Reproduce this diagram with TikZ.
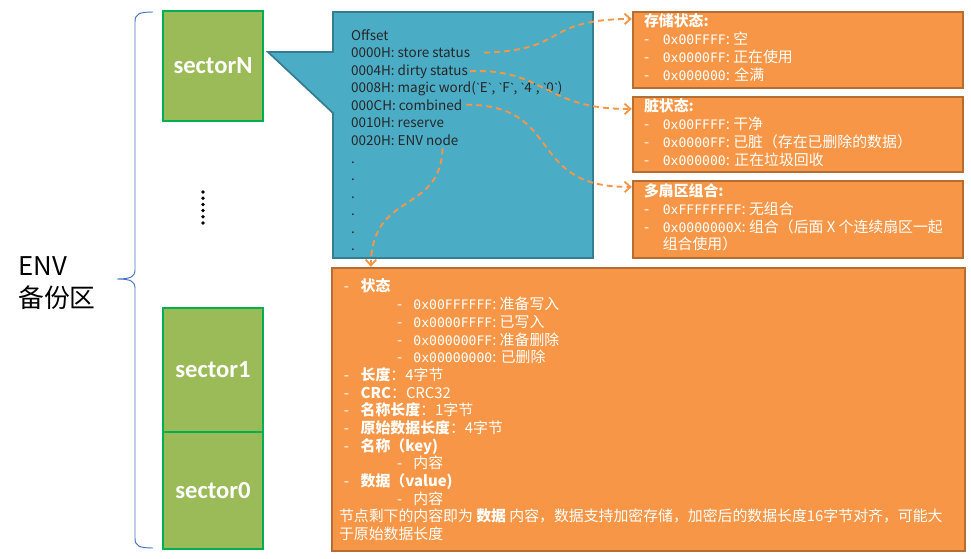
\documentclass[tikz,border=0pt]{standalone}
\usepackage{fontspec}
\setmainfont{Noto Sans CJK SC}
\newfontfamily\codefont{DejaVu Sans Mono}[Scale=0.88]
\newfontfamily\labelfont{Carlito}
\usetikzlibrary{arrows.meta,calc,fit}
\definecolor{secfill}{HTML}{9BBB59}
\definecolor{secline}{HTML}{00B050}
\definecolor{hdrfill}{HTML}{4BACC6}
\definecolor{hdrline}{HTML}{357D91}
\definecolor{notefill}{HTML}{F79646}
\definecolor{noteline}{HTML}{B66D31}
\definecolor{bracecol}{HTML}{4472C4}
\newcommand\txt{\fontsize{11.5}{15}\selectfont}
\newcommand\notefont{\fontsize{12.7}{15.1}\selectfont}
\newcommand\code[1]{{\codefont #1}}
\newcommand\grv{{\labelfont\textasciigrave}}
\newcommand\itm{\makebox[16pt][l]{-}}
\newcommand\topitm{\hspace*{4pt}\makebox[14.5pt][l]{-}}
\newcommand\subitm{\hspace*{49.5pt}\makebox[14pt][l]{-}}
\begin{document}
\begin{tikzpicture}
  [
    x = 0.03cm, y = -0.03cm,
    sector/.style  = {draw=secline, fill=secfill, line width=2pt, inner sep=0pt, minimum width=3cm,
                      text=white, font=\labelfont\bfseries\fontsize{21}{21}\selectfont},
    hdrtxt/.style  = {anchor=base west, inner sep=0pt, text=black!85, font=\txt},
    notebox/.style = {draw=noteline, fill=notefill, line width=2pt, inner sep=0pt},
    notetxt/.style = {anchor=north west, inner sep=0pt, align=left, text=white, font=\notefont},
    link/.style    = {draw=notefill, line width=1.6pt, dash pattern=on 5pt off 3.5pt,
                      -{Straight Barb[length=5pt,width=9pt,line width=1.6pt]}}
  ]
 \useasboundingbox (0,0) rectangle (971,559);
 % backup area
 \node[anchor=west, align=left, inner sep=0pt, font=\fontsize{22}{27}\selectfont] (envLabel) at (18,283) {ENV\\备份区};
 \draw[bracecol, line width=0.8pt] (153,12) .. controls (139,12) and (135,14) .. (135,22) -- (135,270)
   .. controls (135,277) and (130,279) .. (117,279) .. controls (130,279) and (135,281) .. (135,288)
   -- (135,538) .. controls (135,546) and (139,548) .. (153,548);
 \node[sector, minimum height=3.3cm] (sectorN) at (213,66) {sectorN};
 \foreach \k in {0,...,5}
   \fill (203,{192+6.2*\k}) circle (1.6pt);
 \node[sector, minimum height=3.72cm] (sector1) at (213,370) {sector1};
 \node[sector, minimum height=3.51cm] (sector0) at (213,490.5) {sector0};
 % header callout
 \draw[fill=hdrfill, draw=hdrline, line width=1.5pt] (333,12) -- (593,12) -- (593,258) -- (333,258)
   -- (333,113) -- (268,52) -- (333,52) -- cycle;
 \node[hdrtxt] (offLine)   at (351,40)    {Offset};
 \node[hdrtxt] (storeLine) at (351,57.5)  {0000H: store status};
 \node[hdrtxt] (dirtyLine) at (351,75)    {0004H: dirty status};
 \node[hdrtxt] (magicLine) at (351,92.5)  {0008H: magic word(\grv E\grv, \grv F\grv, \grv 4\grv, \grv 0\grv)};
 \node[hdrtxt] (combLine)  at (351,110)   {000CH: combined};
 \node[hdrtxt] (resLine)   at (351,127.5) {0010H: reserve};
 \node[hdrtxt] (envLine)   at (351,145)   {0020H: ENV node};
 \foreach \k in {0,...,5}
   \node[hdrtxt] at (351,{163+17.5*\k}) {.};
 % notes
 \node[notebox, fit={(633,12) (963,88)}] (storeBox) {};
 \node[notetxt] at ([shift={(12,3)}]storeBox.north west) {\textbf{存储状态:}\\
   \itm\code{0x00FFFF}: 空\\
   \itm\code{0x0000FF}: 正在使用\\
   \itm\code{0x000000}: 全满};
 \node[notebox, fit={(633,97) (963,172)}] (dirtyBox) {};
 \node[notetxt] at ([shift={(12,3)}]dirtyBox.north west) {\textbf{脏状态:}\\
   \itm\code{0x00FFFF}: 干净\\
   \itm\code{0x0000FF}: 已脏（存在已删除的数据）\\
   \itm\code{0x000000}: 正在垃圾回收};
 \node[notebox, fit={(633,181) (963,258)}] (combBox) {};
 \node[notetxt] at ([shift={(12,4)}]combBox.north west) {\textbf{多扇区组合:}\\
   \itm\code{0xFFFFFFFF}: 无组合\\
   \itm\code{0x0000000X}: 组合（后面 X 个连续扇区一起\\
   \hspace*{16pt}组合使用）};
 \node[notebox, fit={(332,268) (965,551)}] (nodeBox) {};
 \node[notetxt] at ([shift={(8,12)}]nodeBox.north west) {\topitm\textbf{状态}\\
   \subitm\code{0x00FFFFFF}: 准备写入\\
   \subitm\code{0x0000FFFF}: 已写入\\
   \subitm\code{0x000000FF}: 准备删除\\
   \subitm\code{0x00000000}: 已删除\\
   \topitm\textbf{长度}：4字节\\
   \topitm\textbf{CRC}：CRC32\\
   \topitm\textbf{名称长度}：1字节\\
   \topitm\textbf{原始数据长度}：4字节\\
   \topitm\textbf{名称（key)}\\
   \subitm 内容\\
   \topitm\textbf{数据（value)}\\
   \subitm 内容\\
   节点剩下的内容即为 \textbf{数据} 内容，数据支持加密存储，加密后的数据长度16字节对齐，可能大\\
   于原始数据长度};
 % links
 \draw[link] ([shift={(14,0)}]storeLine.east) .. controls (570,50) and (540,20) .. ([shift={(0,8)}]storeBox.north west);
 \draw[link] ([shift={(2,0)}]dirtyLine.east) .. controls (545,68) and (545,110) .. ([shift={(0,13)}]dirtyBox.north west);
 \draw[link] ([shift={(4,0)}]combLine.east) .. controls (565,105) and (525,188) .. ([shift={(0,7)}]combBox.north west);
 \draw[link] ($(envLine.south east)+(-16,3)$) .. controls (440,215) and (372,190) .. ($(nodeBox.north west)+(40,0)$);
\end{tikzpicture}
\end{document}
